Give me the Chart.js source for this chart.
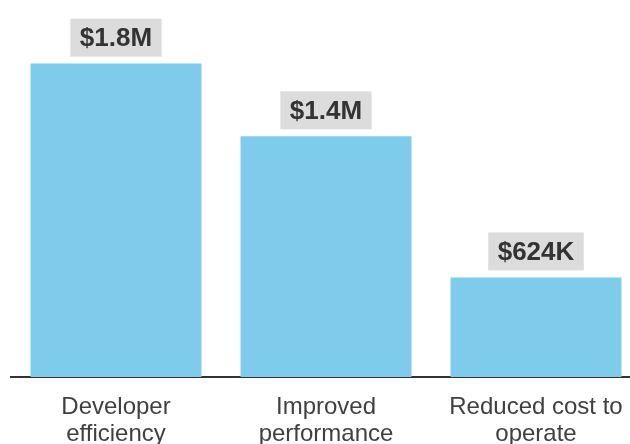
<!DOCTYPE html>
<html>
<head>
<meta charset="utf-8">
<script src="https://cdn.jsdelivr.net/npm/chart.js@4/dist/chart.umd.min.js"></script>
<style>
  html, body { margin: 0; padding: 0; background: #fff; overflow: hidden; }
  #savings { display: block; }
</style>
</head>
<body>
<canvas id="savings" width="641" height="444"></canvas>
<script>
const categories = [['Developer', 'efficiency'], ['Improved', 'performance'], ['Reduced cost to', 'operate']];
const savings = [1800000, 1400000, 624000];
const valueLabels = ['$1.8M', '$1.4M', '$624K'];

const FONT = "'Liberation Sans', Arial, sans-serif";

// grey tag with the dollar figure above every bar
const valueTags = {
    id: 'valueTags',
    afterDatasetsDraw(chart) {
        const ctx = chart.ctx;
        const bars = chart.getDatasetMeta(0).data;
        ctx.save();
        ctx.font = 'bold 26px ' + FONT;
        ctx.textAlign = 'center';
        ctx.textBaseline = 'middle';
        bars.forEach((bar, i) => {
            const text = valueLabels[i];
            const w = ctx.measureText(text).width + 19;
            const h = 38;
            const bottom = bar.y - 7;
            ctx.fillStyle = '#dcdcdc';
            ctx.fillRect(bar.x - w / 2, bottom - h, w, h);
            ctx.fillStyle = '#333333';
            ctx.fillText(text, bar.x, bottom - h / 2 + 1);
        });
        ctx.restore();
    }
};

const ctx = document.getElementById('savings').getContext('2d');
new Chart(ctx, {
    type: 'bar',
    data: {
        labels: categories,
        datasets: [{
            data: savings,
            backgroundColor: '#7ecbec',
            borderWidth: 0,
            barPercentage: 0.814,
            categoryPercentage: 1.0
        }]
    },
    options: {
        responsive: false,
        animation: false,
        layout: { padding: { left: 11, right: 0, top: 0, bottom: 0 } },
        plugins: {
            legend: { display: false },
            tooltip: { enabled: false }
        },
        scales: {
            x: {
                grid: { display: false, drawTicks: false },
                border: { display: true, color: '#333333', width: 2 },
                ticks: {
                    color: '#404040',
                    padding: 17,
                    font: { family: FONT, size: 24, lineHeight: 1.125 }
                },
                afterFit: scale => { scale.height = 67; }
            },
            y: {
                display: false,
                min: 76000,
                max: 2150000
            }
        }
    },
    plugins: [valueTags]
});
</script>
</body>
</html>
